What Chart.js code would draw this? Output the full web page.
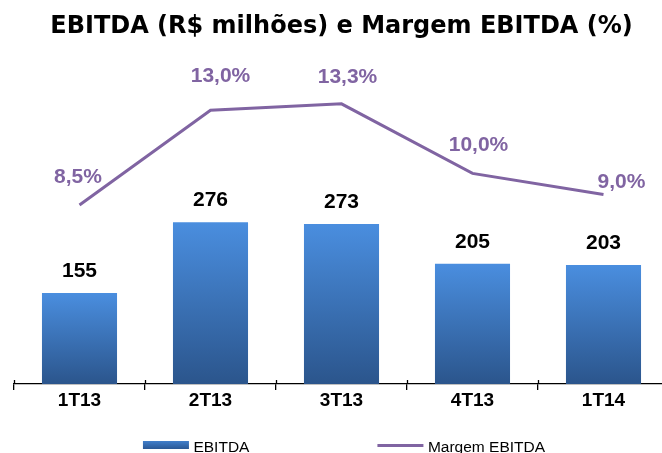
<!DOCTYPE html>
<html>
<head>
<meta charset="utf-8">
<script src="https://cdn.jsdelivr.net/npm/chart.js@4.4.1/dist/chart.umd.min.js"></script>
<style>
  html, body { margin: 0; padding: 0; background: #fff; overflow: hidden; width: 662px; height: 453px; }
  #wrap { position: relative; width: 669px; height: 453px; }
  canvas { display: block; }
</style>
</head>
<body>
<div id="wrap"><canvas id="c" width="669" height="453" style="width:669px;height:453px"></canvas></div>
<script>
const titleText = 'EBITDA (R$ milhões) e Margem EBITDA (%)';
const categories = ['1T13', '2T13', '3T13', '4T13', '1T14'];
const ebitdaValues = [155, 276, 273, 205, 203];
const margemValues = [8.5, 13.0, 13.3, 10.0, 9.0];
const seriesNames = ['EBITDA', 'Margem EBITDA'];

// label nudges for the margin labels (dx, dy in px, relative to each point)
const margemLabelNudge = [[-1.5, -28], [10, -34], [6, -27], [6, -28], [18, -12]];

const BAR_TOP = '#4A8EDF';
const BAR_BOTTOM = '#2B558C';
const LINE_COLOR = '#8064A2';
const ARIAL = '"Liberation Sans", Arial, sans-serif';

function fmtPct(v) { return v.toFixed(1).replace('.', ',') + '%'; }

const barGradient = (context) => {
  const chart = context.chart;
  const area = chart.chartArea;
  if (!area || context.type !== 'data') return '#3B6FB5';
  const y = chart.scales.y;
  const top = y.getPixelForValue(context.raw);
  const bottom = y.getPixelForValue(0);
  const g = chart.ctx.createLinearGradient(0, top, 0, bottom);
  g.addColorStop(0, BAR_TOP);
  g.addColorStop(1, BAR_BOTTOM);
  return g;
};

const valueLabels = {
  id: 'valueLabels',
  afterDatasetsDraw(chart) {
    const ctx = chart.ctx;
    ctx.save();
    ctx.textAlign = 'center';
    ctx.textBaseline = 'middle';
    ctx.font = 'bold 21px ' + ARIAL;
    const barMeta = chart.getDatasetMeta(0);
    ctx.fillStyle = '#000';
    barMeta.data.forEach((el, i) => {
      ctx.fillText(String(ebitdaValues[i]), el.x, el.y - 22);
    });
    const lineMeta = chart.getDatasetMeta(1);
    ctx.fillStyle = LINE_COLOR;
    lineMeta.data.forEach((el, i) => {
      const n = margemLabelNudge[i];
      ctx.fillText(fmtPct(margemValues[i]), el.x + n[0], el.y + n[1]);
    });
    ctx.restore();
  }
};

const axisTicksUp = {
  id: 'axisTicksUp',
  afterDraw(chart) {
    const ctx = chart.ctx;
    const x = chart.scales.x;
    const b = chart.chartArea.bottom;
    ctx.save();
    ctx.strokeStyle = '#000';
    ctx.lineWidth = 1.3;
    for (let i = 0; i <= categories.length; i++) {
      const px = Math.round(x.getPixelForValue(i - 0.5)) + 0.5;
      ctx.beginPath();
      ctx.moveTo(px, b - 4);
      ctx.lineTo(px, b);
      ctx.stroke();
    }
    ctx.restore();
  }
};

const customLegend = {
  id: 'customLegend',
  afterDraw(chart) {
    const ctx = chart.ctx;
    const area = chart.chartArea;
    ctx.save();
    ctx.font = '15.5px ' + ARIAL;
    const boxW = 46, gapText = 4.5, itemGap = 128;
    const w1 = ctx.measureText(seriesNames[0]).width;
    const w2 = ctx.measureText(seriesNames[1]).width;
    const total = boxW + gapText + w1 + itemGap + boxW + gapText + w2;
    const cx = (area.left + area.right) / 2 + 2.5;
    let x = cx - total / 2;
    const baseY = chart.height - 1;
    const g = ctx.createLinearGradient(0, baseY - 11, 0, baseY - 3);
    g.addColorStop(0, '#417FCB');
    g.addColorStop(1, '#2A5895');
    ctx.fillStyle = g;
    ctx.fillRect(x, baseY - 11, boxW, 8);
    ctx.fillStyle = '#000';
    ctx.textBaseline = 'alphabetic';
    ctx.textAlign = 'left';
    ctx.fillText(seriesNames[0], x + boxW + gapText, baseY);
    x += boxW + gapText + w1 + itemGap;
    ctx.strokeStyle = LINE_COLOR;
    ctx.lineWidth = 3;
    ctx.beginPath();
    ctx.moveTo(x, baseY - 6.5);
    ctx.lineTo(x + boxW, baseY - 6.5);
    ctx.stroke();
    ctx.fillText(seriesNames[1], x + boxW + gapText, baseY);
    ctx.restore();
  }
};

new Chart(document.getElementById('c'), {
  data: {
    labels: categories,
    datasets: [
      {
        type: 'bar',
        label: seriesNames[0],
        data: ebitdaValues,
        backgroundColor: barGradient,
        borderWidth: 0,
        barPercentage: 0.573,
        categoryPercentage: 1,
        yAxisID: 'y',
        order: 1
      },
      {
        type: 'line',
        label: seriesNames[1],
        data: margemValues,
        borderColor: LINE_COLOR,
        backgroundColor: LINE_COLOR,
        borderWidth: 3,
        pointRadius: 0,
        tension: 0,
        fill: false,
        yAxisID: 'y1',
        order: 0
      }
    ]
  },
  options: {
    responsive: false,
    devicePixelRatio: 1,
    animation: false,
    layout: { padding: { left: 14, right: 0, top: 0, bottom: 0 } },
    plugins: {
      legend: { display: false },
      tooltip: { enabled: false },
      title: {
        display: true,
        text: titleText,
        color: '#000',
        font: { family: '"DejaVu Sans", Verdana, sans-serif', size: 24, weight: 'bold', lineHeight: '28px' },
        padding: { top: 13, bottom: 14 }
      }
    },
    scales: {
      x: {
        type: 'category',
        offset: true,
        grid: { offset: true, drawOnChartArea: false, drawTicks: true, tickLength: 6, color: '#000', lineWidth: 1.3 },
        border: { display: true, color: '#000', width: 1.3 },
        ticks: { color: '#000', padding: 1, font: { family: ARIAL, size: 19, weight: 'bold', lineHeight: 1 } },
        afterFit(scale) { scale.height = 69; }
      },
      y: { display: false, min: 0, max: 561 },
      y1: { display: false, min: 0, max: 15.62, position: 'right' }
    }
  },
  plugins: [valueLabels, axisTicksUp, customLegend]
});
</script>
</body>
</html>
